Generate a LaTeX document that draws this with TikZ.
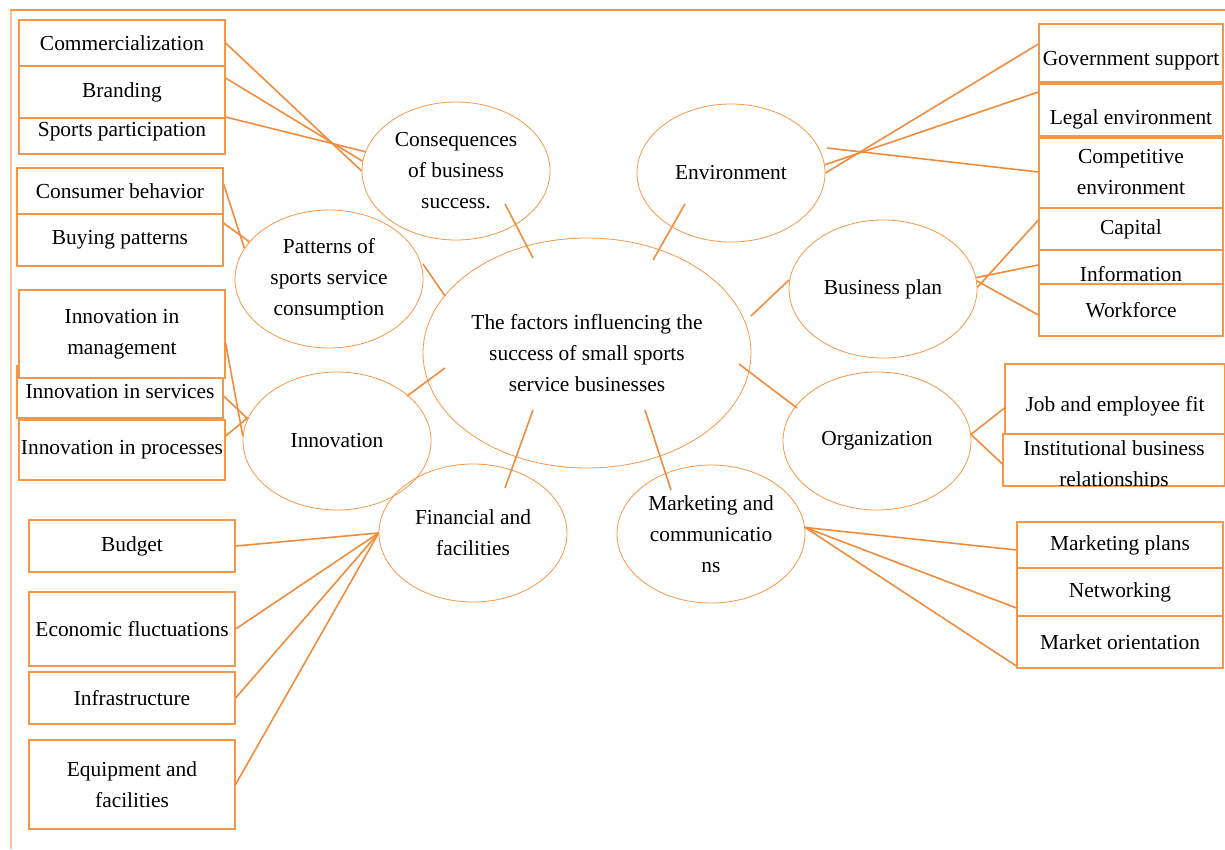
\documentclass[tikz,border=0pt]{standalone}
\usepackage{fontspec}
\setmainfont{Liberation Serif}
\usepackage{tikz}
\usetikzlibrary{shapes.geometric}
\definecolor{lineorange}{RGB}{242,140,60}
\definecolor{boxorange}{RGB}{247,150,70}
\definecolor{paleorange}{RGB}{250,192,144}

\begin{document}
\begin{tikzpicture}[x=1pt, y=-1pt,
  every node/.style={font=\fontsize{21.4}{31}\selectfont, align=center, inner sep=0pt},
  item/.style={draw=boxorange, line width=1.2pt, rectangle},
  factor/.style={draw=boxorange, line width=0.8pt, ellipse, minimum width=188pt, minimum height=138pt},
  link/.style={draw=lineorange, line width=1.6pt}]
\useasboundingbox (0,0) rectangle (1225,849);
%%%%% Frame %%%%%
\draw[paleorange, line width=1.5pt] (11,849)--(11,10);
\draw[boxorange, line width=1.2pt] (10,10)--(1225,10);
%%%%% Ellipses %%%%%
\node[factor, minimum width=328pt, minimum height=230pt] (main) at (587,353) {The factors influencing the\\success of small sports\\service businesses};
\node[factor] (cons) at (456,171) {Consequences\\of business\\success.};
\node[factor] (patt) at (329,279) {Patterns of\\sports service\\consumption};
\node[factor] (innov) at (337,441) {Innovation};
\node[factor] (fin) at (473,533) {Financial and\\facilities};
\node[factor] (mkt) at (711,534) {Marketing and\\communicatio\\ns};
\node[factor] (env) at (731,173) {Environment};
\node[factor] (bplan) at (883,289) {Business plan};
\node[factor] (org) at (877,441) {Organization};
%%%%% Left boxes %%%%%
\node[item, minimum width=206pt, minimum height=46pt] (comm) at (122,43) {Commercialization};
\node[item, minimum width=206pt, minimum height=54pt, text height=23pt] (sport) at (122,127) {Sports participation};
\node[item, fill=white, minimum width=206pt, minimum height=52pt] (brand) at (122,92) {Branding};
\node[item, minimum width=206pt, minimum height=46pt] (consb) at (120,191) {Consumer behavior};
\node[item, minimum width=206pt, minimum height=52pt] (buying) at (120,240) {Buying patterns};
\node[item, minimum width=206pt, minimum height=52pt] (serv) at (120,392) {Innovation in services};
\node[item, fill=white, minimum width=206pt, minimum height=88pt] (mgmt) at (122,334) {Innovation in\\management};
\node[item, minimum width=206pt, minimum height=60pt] (proc) at (122,450) {Innovation in processes};
\node[item, minimum width=206pt, minimum height=52pt] (budget) at (132,546) {Budget};
\node[item, minimum width=206pt, minimum height=74pt] (econ) at (132,629) {Economic fluctuations};
\node[item, minimum width=206pt, minimum height=52pt] (infra) at (132,698) {Infrastructure};
\node[item, minimum width=206pt, minimum height=89pt] (equip) at (132,784.5) {Equipment and\\facilities};
%%%%% Right boxes %%%%%
\node[item, minimum width=184pt, minimum height=58pt, text height=29pt] (gov) at (1131,53) {Government support};
\node[item, minimum width=184pt, minimum height=54pt, text height=31pt] (legal) at (1131,111) {Legal environment};
\node[item, minimum width=184pt, minimum height=72pt] (comp) at (1131,172) {Competitive\\environment};
\node[item, minimum width=184pt, minimum height=42pt] (capital) at (1131,229) {Capital};
\node[item, minimum width=184pt, minimum height=34pt, text height=29pt] (info) at (1131,267) {Information};
\node[item, minimum width=184pt, minimum height=52pt] (work) at (1131,310) {Workforce};
\node[item, minimum width=220pt, minimum height=70pt, text height=29pt] (job) at (1115,399) {Job and employee fit};
\node[item, minimum width=222pt, minimum height=52pt] (inst) at (1114,460) {};
\begin{scope}
\clip (inst.south west) rectangle (inst.north east);
\node (instTxt) at (1114,466) {Institutional business\\relationships};
\end{scope}
\node[item, minimum width=206pt, minimum height=46pt] (plans) at (1120,545) {Marketing plans};
\node[item, minimum width=206pt, minimum height=48pt] (netw) at (1120,592) {Networking};
\node[item, minimum width=206pt, minimum height=52pt] (orient) at (1120,642) {Market orientation};
%%%%% Spokes %%%%%
\draw[link] ([shift={(-54,-95)}]main.center)--([shift={(49,33)}]cons.center);
\draw[link] ([shift={(-142,-57)}]main.center)--([shift={(94,-15)}]patt.center);
\draw[link] ([shift={(-142,15)}]main.center)--([shift={(70,-45)}]innov.center);
\draw[link] ([shift={(-54,57)}]main.center)--([shift={(32,-45)}]fin.center);
\draw[link] ([shift={(58,57)}]main.center)--([shift={(-40,-44)}]mkt.center);
\draw[link] ([shift={(66,-93)}]main.center)--([shift={(-46,31)}]env.center);
\draw[link] ([shift={(164,-37)}]main.center)--([shift={(-94,-9)}]bplan.center);
\draw[link] ([shift={(152,11)}]main.center)--([shift={(-80,-33)}]org.center);
%%%%% Left links %%%%%
\draw[link] (comm.east)--(cons.180);
\draw[link] ([yshift=14pt]brand.east)--(cons.174.5);
\draw[link] ([yshift=10pt]sport.east)--(cons.168.6);
\draw[link] ([yshift=7pt]consb.east)--(patt.160);
\draw[link] ([yshift=17pt]buying.east)--(patt.155.6);
\draw[link] ([yshift=-9pt]mgmt.east)--(innov.177);
\draw[link] ([yshift=-4pt]serv.east)--(innov.166.4);
\draw[link] ([yshift=14pt]proc.east)--(innov.165.3);
\foreach \b in {budget,econ,infra,equip}{
\draw[link] (\b.east)--(fin.180);
}
%%%%% Right links %%%%%
\draw[link] (env.0)--([yshift=9pt]gov.west);
\draw[link] (env.5.5)--([yshift=19pt]legal.west);
\draw[link] ([shift={(96,-25)}]env.center)--(comp.west);
\draw[link] (bplan.1)--([yshift=9pt]capital.west);
\draw[link] (bplan.7.3)--([yshift=2pt]info.west);
\draw[link] (bplan.5.5)--([yshift=-5pt]work.west);
\draw[link] (org.4.9)--([yshift=-9pt]job.west);
\draw[link] (org.4.9)--([yshift=-4pt]inst.west);
\draw[link] (mkt.4.3)--([yshift=-5pt]plans.west);
\draw[link] (mkt.4.3)--([yshift=-16pt]netw.west);
\draw[link] (mkt.4.3)--([yshift=-24pt]orient.west);
\end{tikzpicture}
\end{document}
